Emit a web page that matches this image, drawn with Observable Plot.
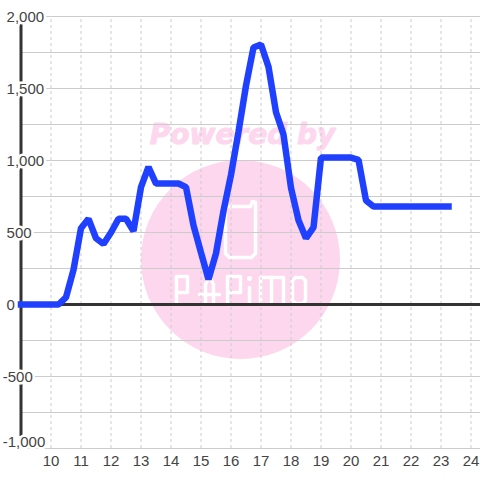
<!DOCTYPE html>
<html><head><meta charset="utf-8">
<script src="https://cdn.jsdelivr.net/npm/d3@7"></script>
<script src="https://cdn.jsdelivr.net/npm/@observablehq/plot@0.6"></script>
<style>html,body{margin:0;padding:0;background:#fff}svg{display:block}</style>
</head><body><div id="c"></div>
<script>
const hours = [9,10.25,10.5,10.75,11,11.25,11.5,11.75,12,12.25,12.5,12.75,13,13.25,13.5,13.75,14,14.25,14.5,14.75,15,15.25,15.5,15.75,16,16.25,16.5,16.75,17,17.25,17.5,17.75,18,18.25,18.5,18.75,19,19.25,19.5,19.75,20,20.25,20.5,20.75,21,21.5,22,22.5,23,23.25];
const values = [0,0,50,240,530,595,460,420,500,595,595,510,815,955,840,840,840,840,815,550,360,175,355,650,900,1200,1520,1785,1805,1650,1335,1180,810,585,460,535,1020,1020,1020,1020,1020,1005,722,680,680,680,680,680,680,680];
const xTicks = d3.range(10,25);
const yTicks = [2000,1500,1000,500,0,-500,-1000];
const yGrid = d3.range(-1000,2001,250);
const wmLines = [
 [[225,209],[225,253],[229,257],[251,257],[255,253],[255,202],[252,201],[250,206],[228,206],[225,209]],
 [[176,304],[176,276],[187,276],[187,292],[176,292]],
 [[205,304],[205,284],[209,276],[213,284],[213,304]],
 [[199,294],[219,294]],
 [[227,304],[227,276],[240,276],[240,292],[227,292]],
 [[249,287],[249,304]],
 [[260,304],[260,277],[283,277],[283,304]],
 [[271,277],[271,304]],
 [[292,280],[295,277],[302,277],[305,280],[305,300],[302,303],[295,303],[292,300],[292,280]]
];
// watermark positions given in picture pixels, mapped into the chart's data units
const X = p => (p-50.5)/30+10, Y = p => (304-p)/0.144;
const wmData = wmLines.flatMap((l,i)=>l.map(([a,b])=>({k:i,x:X(a),y:Y(b)})));
const labelX = v => v<0 ? 8.39 : 8.52;
const pink = "#fdd7ee", ink = "#444";
const fmt = d3.format(",");
const chart = Plot.plot({
  width:480,height:480,margin:0,
  style:{background:"#fff",fontFamily:"'Liberation Sans',Arial,sans-serif"},
  x:{domain:[X(0),X(480)],range:[0,480],axis:null},
  y:{domain:[Y(480),Y(0)],range:[480,0],axis:null},
  marks:[
    Plot.dot([0],{x:()=>X(240),y:()=>Y(259),r:99.5,fill:pink,stroke:null}),
    Plot.text(["Powered by"],{x:()=>X(242),y:()=>Y(135),text:d=>d,fill:pink,stroke:pink,strokeWidth:1,fontSize:28,fontWeight:"bold",fontStyle:"italic",fontFamily:"'DejaVu Sans'"}),
    Plot.line(wmData,{x:"x",y:"y",z:"k",stroke:"#fff",strokeWidth:3.5,strokeLinejoin:"round",strokeLinecap:"round"}),
    Plot.dot([0],{x:()=>X(249),y:()=>Y(278),r:2.5,fill:"#fff",stroke:null}),
    Plot.ruleY(yGrid,{x1:9,x2:X(480),stroke:"#ccc",strokeWidth:1}),
    Plot.ruleX(xTicks,{y1:-1000,y2:2000,stroke:"#ccc",strokeWidth:1,strokeDasharray:"3,3"}),
    Plot.ruleY([0],{x1:9,x2:X(480),stroke:"#333",strokeWidth:3}),
    Plot.ruleX([9],{y1:Y(436),y2:Y(24),stroke:"#333",strokeWidth:3}),
    Plot.text(yTicks,{x:labelX,y:d=>d===-1000?Y(441):d,text:d=>fmt(d).replace("−","-"),textAnchor:"start",fill:ink,fontSize:15,stroke:"#fff",strokeWidth:5,strokeLinejoin:"miter",paintOrder:"stroke",dy:1}),
    Plot.text(xTicks,{x:d=>d,y:()=>Y(461),text:d=>String(d),fill:ink,fontSize:15}),
    Plot.line(hours.map((h,i)=>({h,v:values[i]})),{x:"h",y:"v",stroke:"#2040ff",strokeWidth:6.5,strokeLinejoin:"bevel",strokeLinecap:"square"})
  ]
});
document.getElementById("c").append(chart);
</script></body></html>
